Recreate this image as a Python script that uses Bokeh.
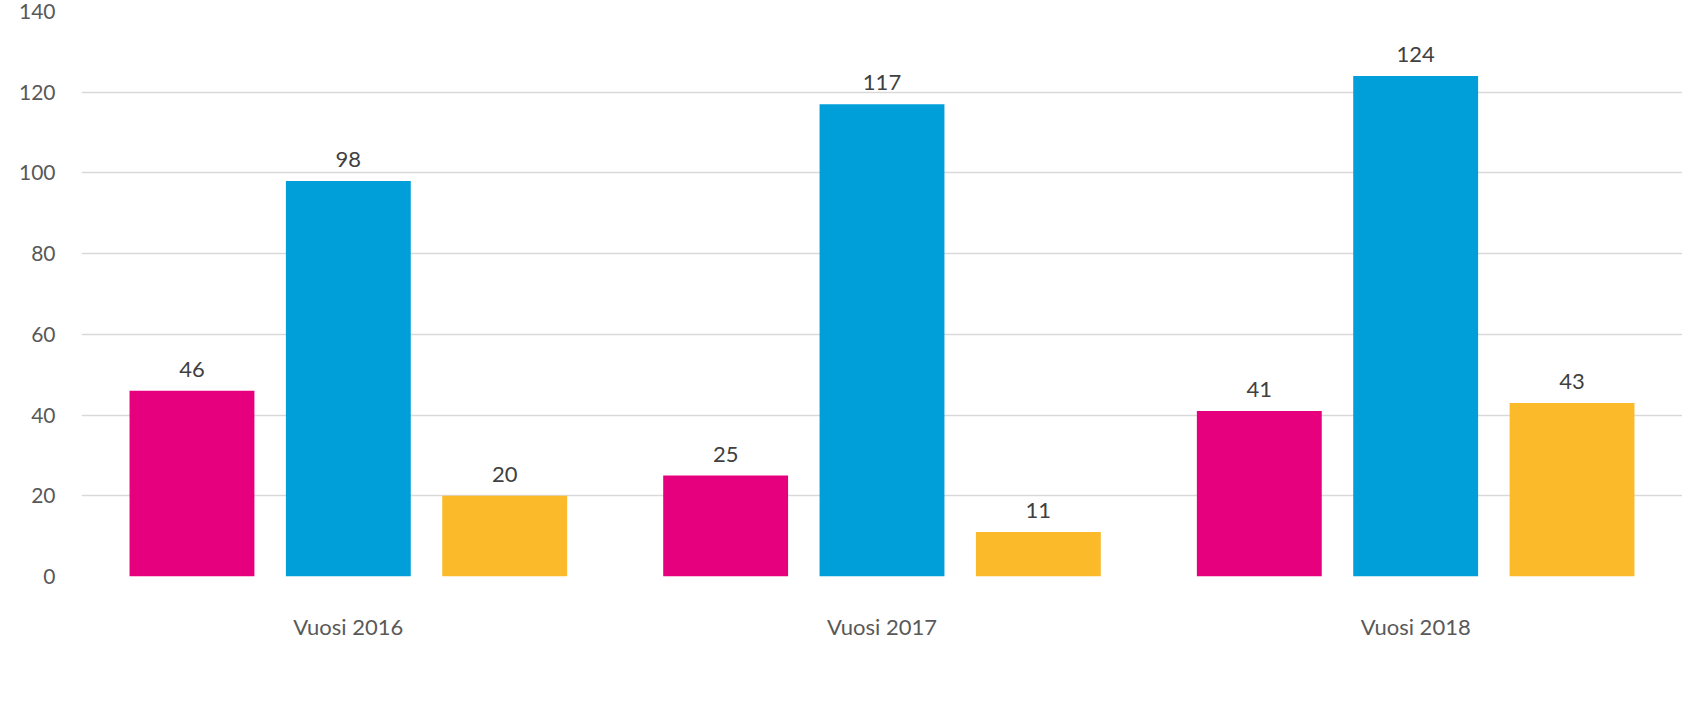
from bokeh.plotting import figure
from bokeh.models import (ColumnDataSource, FactorRange, Range1d, FixedTicker,
                          LabelSet, Legend, LegendItem)
from bokeh.core.properties import value
from bokeh.transform import dodge
from bokeh.embed import file_html
from bokeh.resources import INLINE

years = ["Vuosi 2016", "Vuosi 2017", "Vuosi 2018"]
series = ["Tavarat", "Palvelut", "Rakennusurakat"]
tavarat = [46, 25, 41]
palvelut = [98, 117, 124]
rakennus = [20, 11, 43]
colors = ["#E6007E", "#009FDA", "#FBBA2A"]
y_ticks = [0, 20, 40, 60, 80, 100, 120, 140]

FONT = "Lato"
TXT = "#595959"

src = ColumnDataSource(dict(
    x=years, tavarat=tavarat, palvelut=palvelut, rakennus=rakennus,
    tl=[str(v) for v in tavarat], pl=[str(v) for v in palvelut],
    rl=[str(v) for v in rakennus]))

p = figure(x_range=FactorRange(factors=years, range_padding=0),
           y_range=Range1d(0, 140),
           frame_width=1601, frame_height=565,
           min_border_left=81, min_border_right=0, min_border_top=11,
           min_border_bottom=111,
           output_backend="svg", toolbar_location=None)
p.outline_line_color = None
p.background_fill_color = "white"

off = 0.293
bw = 0.234
cols = ["tavarat", "palvelut", "rakennus"]
labs = ["tl", "pl", "rl"]
renderers = []
for i, (c, lab, col) in enumerate(zip(cols, labs, colors)):
    d = (i - 1) * off
    r = p.vbar(x=dodge("x", d, range=p.x_range), top=c, width=bw,
               source=src, fill_color=col, line_color=None)
    renderers.append(r)
    ls = LabelSet(x=dodge("x", d, range=p.x_range), y=c, text=lab, source=src,
                  text_align="center", text_baseline="bottom", y_offset=14,
                  text_font=value(FONT), text_font_size="22px", text_color="#404040")
    p.add_layout(ls)

p.yaxis.ticker = FixedTicker(ticks=y_ticks)
p.yaxis.axis_line_color = None
p.yaxis.major_tick_line_color = None
p.yaxis.minor_tick_line_color = None
p.yaxis.major_label_standoff = 20
p.yaxis.major_label_text_font = FONT
p.yaxis.major_label_text_font_size = "21px"
p.yaxis.major_label_text_color = TXT

p.xaxis.axis_line_color = None
p.xaxis.major_tick_line_color = None
p.xaxis.major_label_standoff = 30
p.xaxis.major_label_text_font = FONT
p.xaxis.major_label_text_font_size = "22px"
p.xaxis.major_label_text_color = TXT

p.xgrid.grid_line_color = None
p.ygrid.grid_line_color = "#D9D9D9"
p.ygrid.grid_line_width = 1.5

legend = Legend(items=[LegendItem(label=s, renderers=[r]) for s, r in zip(series, renderers)],
                orientation="horizontal", location=(492, -110),
                label_text_font=FONT, label_text_font_size="23px",
                label_text_color=TXT, glyph_width=16, glyph_height=16,
                label_standoff=8, spacing=34, padding=0, margin=0,
                border_line_color=None, background_fill_alpha=0)
p.add_layout(legend)

open("out.html", "w").write(file_html(p, INLINE))
